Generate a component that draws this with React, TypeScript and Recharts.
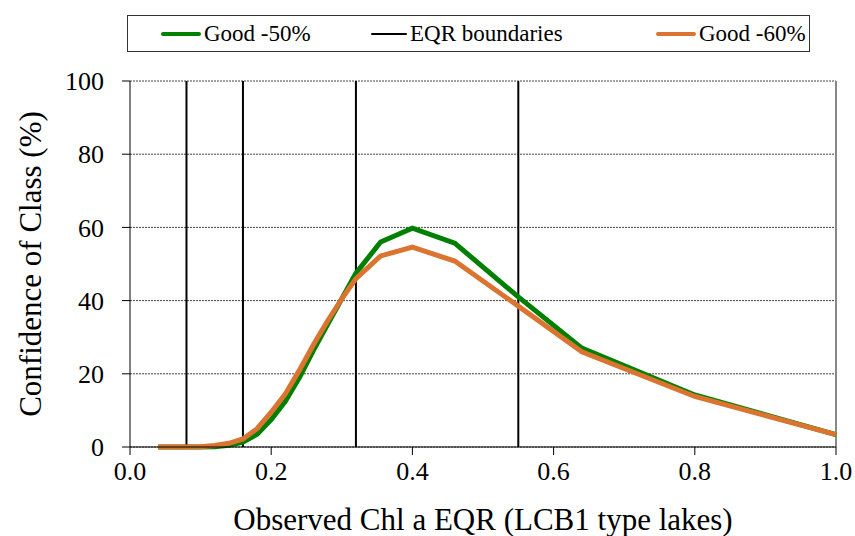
import { LineChart, Line, XAxis, YAxis, CartesianGrid, ReferenceLine, Label, Legend } from 'recharts'

const eqr = [0.04, 0.06, 0.08, 0.1, 0.12, 0.14, 0.16, 0.18, 0.2, 0.22, 0.24, 0.26, 0.28, 0.3, 0.32, 0.355, 0.4, 0.46, 0.55, 0.64, 0.8, 1.0]
const good50 = [0, 0, 0, 0, 0.1, 0.5, 1.3, 3.5, 7.5, 12.5, 19, 26.5, 33.5, 40.5, 47.5, 56, 59.8, 55.7, 41, 27, 14.2, 3.4]
const good60 = [0, 0, 0, 0.1, 0.4, 1, 2.2, 5, 9.5, 14.5, 21, 28, 34.5, 40.5, 46, 52.2, 54.6, 50.8, 38.5, 26, 13.8, 3.4]
const boundaries = [0.08, 0.16, 0.32, 0.55]
const xTicks = [0, 0.2, 0.4, 0.6, 0.8, 1.0]
const yTicks = [0, 20, 40, 60, 80, 100]

const data = eqr.map((x, i) => ({ x, good50: good50[i], good60: good60[i] }))

const font = '"Liberation Serif", "Times New Roman", serif'
const green = '#008000'
const orange = '#DA7430'

// legend: [color, line thickness, line length, left offset inside the box, label]
const legendItems: [string, number, number, number, string][] = [
  [green, 4, 40, 33, 'Good -50%'],
  ['#000', 2, 36, 243, 'EQR boundaries'],
  [orange, 4, 40, 528, 'Good -60%'],
]

function LegendBox() {
  return (
    <div
      style={{
        position: 'absolute', left: 127, top: 15, width: 683, height: 37,
        border: '1px solid #333', boxSizing: 'border-box',
        fontFamily: font, fontSize: 23, color: '#000',
      }}
    >
      {legendItems.map(([color, w, len, left, label]) => (
        <div key={label} style={{ position: 'absolute', left, top: 0, height: 35, display: 'flex', alignItems: 'center', whiteSpace: 'nowrap' }}>
          <div style={{ width: len, height: 0, borderTop: `${w}px solid ${color}`, borderRadius: 2 }} />
          <span style={{ marginLeft: 3 }}>{label}</span>
        </div>
      ))}
    </div>
  )
}

export default function App() {
  return (
    <div style={{ position: 'absolute', left: 0, top: 0, width: 855, height: 536, background: '#fff', fontFamily: font }}>
      <LineChart width={855} height={536} data={data} margin={{ top: 81, right: 19, bottom: 0, left: 0 }}>
        <CartesianGrid horizontal vertical={false} stroke="#444" strokeDasharray="2 1" />
        <XAxis
          dataKey="x" type="number" domain={[0, 1]} ticks={xTicks} height={89}
          tickFormatter={(v: number) => v.toFixed(1)}
          stroke="#000" tickSize={8} tickMargin={7}
          tick={{ fill: '#000', fontSize: 26, fontFamily: font }}
        >
          <Label value="Observed Chl a EQR (LCB1 type lakes)" position="insideBottom" offset={6}
            style={{ fill: '#000', fontSize: 31, fontFamily: font }} />
        </XAxis>
        <YAxis
          type="number" domain={[0, 100]} ticks={yTicks} width={130}
          stroke="#000" tickSize={8} tickMargin={18}
          tick={{ fill: '#000', fontSize: 26, fontFamily: font }}
        >
          <Label value="Confidence of Class (%)" angle={-90} position="insideLeft" offset={30}
            style={{ fill: '#000', fontSize: 31, fontFamily: font, textAnchor: 'middle' }} />
        </YAxis>
        <ReferenceLine x={1} stroke="#888" strokeWidth={2} />
        {boundaries.map((b) => (
          <ReferenceLine key={b} x={b} stroke="#000" strokeWidth={2} />
        ))}
        <Line type="linear" dataKey="good50" stroke={green} strokeWidth={5} dot={false} isAnimationActive={false} />
        <Line type="linear" dataKey="good60" stroke={orange} strokeWidth={5} dot={false} isAnimationActive={false} />
        <Legend content={() => null} />
      </LineChart>
      <LegendBox />
    </div>
  )
}
